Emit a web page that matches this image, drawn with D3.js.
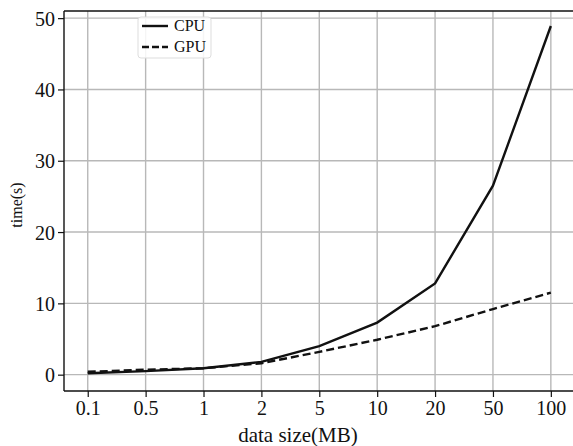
<!DOCTYPE html>
<html>
<head>
<meta charset="utf-8">
<script src="https://cdn.jsdelivr.net/npm/d3@7"></script>
<style>
  body { margin: 0; background: #fff; }
  text { font-family: "Liberation Serif", "Times New Roman", serif; fill: #111; }
</style>
</head>
<body>
<svg id="chart" width="573" height="446"></svg>
<script>
// data
var sizes = ["0.1", "0.5", "1", "2", "5", "10", "20", "50", "100"];
var cpuTimes = [0.2, 0.5, 0.9, 1.8, 4.0, 7.3, 12.8, 26.5, 48.9];
var gpuTimes = [0.4, 0.7, 0.9, 1.6, 3.2, 4.9, 6.8, 9.2, 11.5];
var yTicks = [0, 10, 20, 30, 40, 50];
var seriesNames = ["CPU", "GPU"];

var svg = d3.select("#chart");
// (window.top is taken, so plot edges get their own names)
var plotLeft = 64, plotRight = 574, plotTop = 11, plotBottom = 391;

var x = d3.scaleLinear().domain([-0.41, sizes.length - 1 + 0.4]).range([plotLeft, plotRight]);
var y = d3.scaleLinear().domain([-2.29, 51.0]).range([plotBottom, plotTop]);

// grid
svg.append("g").selectAll("line").data(d3.range(sizes.length)).enter().append("line")
  .attr("x1", function(d){ return x(d); }).attr("x2", function(d){ return x(d); })
  .attr("y1", plotTop).attr("y2", plotBottom)
  .attr("stroke", "#b8b8b8").attr("stroke-width", 1.4);
svg.append("g").selectAll("line").data(yTicks).enter().append("line")
  .attr("x1", plotLeft).attr("x2", plotRight)
  .attr("y1", function(d){ return y(d); }).attr("y2", function(d){ return y(d); })
  .attr("stroke", "#b8b8b8").attr("stroke-width", 1.4);

// axes
var xAxis = d3.axisBottom(x).tickValues(d3.range(sizes.length))
  .tickFormat(function(i){ return sizes[i]; }).tickSize(6).tickPadding(4);
var gx = svg.append("g").attr("transform", "translate(0," + plotBottom + ")").call(xAxis);
var yAxis = d3.axisLeft(y).tickValues(yTicks).tickSize(6).tickPadding(3);
var gy = svg.append("g").attr("transform", "translate(" + plotLeft + ",0)").call(yAxis);
[gx, gy].forEach(function(g){
  g.select(".domain").remove();
  g.selectAll(".tick line").attr("stroke", "#111").attr("stroke-width", 1.2);
  g.selectAll(".tick text").attr("font-size", 20).attr("fill", "#111")
    .style("font-family", "Liberation Serif, serif");
});
gy.selectAll(".tick text").attr("dy", "0.35em");

// spines
svg.append("line").attr("x1", plotLeft).attr("x2", plotLeft).attr("y1", plotTop).attr("y2", plotBottom)
  .attr("stroke", "#111").attr("stroke-width", 1.4);
svg.append("line").attr("x1", plotLeft).attr("x2", plotRight).attr("y1", plotBottom).attr("y2", plotBottom)
  .attr("stroke", "#111").attr("stroke-width", 1.4);
svg.append("line").attr("x1", plotLeft).attr("x2", plotRight).attr("y1", plotTop).attr("y2", plotTop)
  .attr("stroke", "#111").attr("stroke-width", 1.4);

// lines
var line = d3.line().x(function(d, i){ return x(i); }).y(function(d){ return y(d); });
svg.append("path").datum(cpuTimes).attr("d", line)
  .attr("fill", "none").attr("stroke", "#111").attr("stroke-width", 2.4);
svg.append("path").datum(gpuTimes).attr("d", line)
  .attr("fill", "none").attr("stroke", "#111").attr("stroke-width", 2.4)
  .attr("stroke-dasharray", "8,4");

// axis labels
svg.append("text").attr("x", 298).attr("y", 442).attr("text-anchor", "middle")
  .attr("font-size", 21).text("data size(MB)");
svg.append("text").attr("transform", "translate(22,205) rotate(-90)")
  .attr("text-anchor", "middle").attr("font-size", 16).text("time(s)");

// legend
var lg = svg.append("g");
lg.append("rect").attr("x", 138).attr("y", 17).attr("width", 73).attr("height", 41)
  .attr("rx", 3).attr("fill", "#fff").attr("fill-opacity", 0.85)
  .attr("stroke", "#ddd").attr("stroke-width", 1);
seriesNames.forEach(function(name, i){
  var ly = 26 + i * 21;
  lg.append("line").attr("x1", 142).attr("x2", 168).attr("y1", ly).attr("y2", ly)
    .attr("stroke", "#111").attr("stroke-width", 2.4)
    .attr("stroke-dasharray", i === 1 ? "7,3" : null);
  lg.append("text").attr("x", 174).attr("y", ly + 5).attr("font-size", 16).text(name);
});
</script>
</body>
</html>
